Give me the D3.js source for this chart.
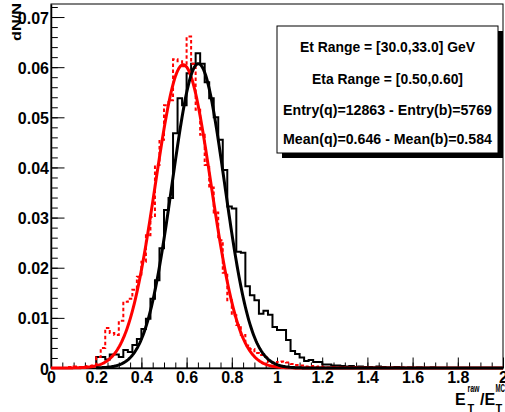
<!DOCTYPE html>
<html><head><meta charset="utf-8">
<script src="https://cdn.jsdelivr.net/npm/d3@7"></script>
<style>body{margin:0;background:#fff}svg{display:block}</style>
</head><body>
<svg id="c" width="505" height="412"></svg>
<script>
// ---------- data ----------
const xRange = [0, 2];
const yRange = [0, 0.0726];
const binWidth = 0.02;
const xMajorTicks = [0, 0.2, 0.4, 0.6, 0.8, 1, 1.2, 1.4, 1.6, 1.8, 2];
const xTickLabels = ["0", "0.2", "0.4", "0.6", "0.8", "1", "1.2", "1.4", "1.6", "1.8", "2"];
const yMajorTicks = [0, 0.01, 0.02, 0.03, 0.04, 0.05, 0.06, 0.07];
const yTickLabels = ["0", "0.01", "0.02", "0.03", "0.04", "0.05", "0.06", "0.07"];

// quark jets (black, solid histogram), 100 bins of 0.02 from 0 to 2
const quarkValues = [
  0, 0, 0, 0, 0, 0, 0, 0, 0, 0.0004,
  0.0022, 0.0022, 0.0017, 0.0027, 0.0027, 0.0022, 0.0036, 0.0032, 0.0046, 0.0058,
  0.0078, 0.0098, 0.0138, 0.0175, 0.0239, 0.0315, 0.0339, 0.0468, 0.0538, 0.0524,
  0.0588, 0.0607, 0.0628, 0.0607, 0.0570, 0.0538, 0.0500, 0.0455, 0.0395, 0.0322,
  0.0318, 0.0232, 0.0230, 0.0163, 0.0145, 0.0135, 0.0108, 0.0114, 0.0106, 0.0082,
  0.0076, 0.0076, 0.0056, 0.0034, 0.0028, 0.0021, 0.0014, 0.0016, 0.0012, 0.0012,
  0.0007, 0.0007, 0.0005, 0.0005, 0.0004, 0.0003, 0.0004, 0.0002, 0.0003, 0.0002,
  0.0002, 0.0001, 0.0003, 0.0002, 0.0001, 0.0001, 0.0002, 0.0001, 0, 0.0001,
  0, 0.0001, 0, 0, 0.0001, 0, 0, 0, 0, 0,
  0, 0, 0, 0, 0, 0, 0, 0, 0, 0
];
// b jets (red, dashed histogram)
const bValues = [
  0, 0, 0, 0, 0.0002, 0.0003, 0.0002, 0.0003, 0.0004, 0.0005,
  0.0022, 0.0040, 0.0080, 0.0070, 0.0066, 0.0094, 0.0132, 0.0138, 0.0156, 0.0182,
  0.0212, 0.0265, 0.0301, 0.0405, 0.0455, 0.0524, 0.0534, 0.0616, 0.0612, 0.0602,
  0.0661, 0.0607, 0.0515, 0.0465, 0.0405, 0.0360, 0.0310, 0.0255, 0.0190, 0.0135,
  0.0105, 0.0086, 0.0066, 0.0045, 0.0038, 0.0030, 0.0026, 0.0022, 0.0012, 0.0010,
  0.0012, 0.0013, 0.0011, 0.0008, 0.0006, 0.0005, 0.0003, 0.0004, 0.0002, 0.0003,
  0.0002, 0.0001, 0.0002, 0.0001, 0, 0.0001, 0, 0.0001, 0, 0,
  0, 0, 0, 0, 0, 0, 0, 0, 0, 0,
  0, 0, 0, 0, 0, 0, 0, 0, 0, 0,
  0, 0, 0, 0, 0, 0, 0, 0, 0, 0
];

// Gaussian fit parameters [quark, b]
const fitAmplitude = [0.0607, 0.0605];
const fitMean = [0.652, 0.585];
const fitSigma = [0.116, 0.123];
const fitRangeLow = [0.2, 0];
const fitColors = ["#000000", "#ff0000"];

const legendLines = [
  "Et Range = [30.0,33.0] GeV",
  "Eta Range = [0.50,0.60]",
  "Entry(q)=12863 - Entry(b)=5769",
  "Mean(q)=0.646 - Mean(b)=0.584"
];

// ---------- drawing ----------
const FONT = "'Liberation Sans Narrow','Liberation Sans',Arial,sans-serif";
const FONT_W = "'Liberation Sans',Arial,sans-serif";
const svg = d3.select("#c");
const L = 51, R = 503, T = 4, B = 368;
const x = d3.scaleLinear().domain(xRange).range([L, R]);
const y = d3.scaleLinear().domain(yRange).range([B, T]);

svg.append("rect").attr("width", 505).attr("height", 412).attr("fill", "#fff");

// frame
svg.append("rect").attr("x", L).attr("y", T).attr("width", R - L).attr("height", B - T)
  .attr("fill", "none").attr("stroke", "#000").attr("stroke-width", 1);

// axes
const xMinor = d3.range(0, 2.0001, 0.05);
const yMinor = d3.range(0, 0.0726, 0.002);
svg.append("g").attr("transform", `translate(0,${B})`)
  .call(d3.axisBottom(x).tickValues(xMinor).tickSize(-5.5).tickSizeOuter(0).tickFormat(""))
  .call(g => g.select(".domain").remove());
const gx = svg.append("g").attr("transform", `translate(0,${B})`)
  .call(d3.axisBottom(x).tickValues(xMajorTicks).tickSize(-10.5).tickSizeOuter(0)
    .tickPadding(4).tickFormat((d, i) => xTickLabels[i]));
gx.select(".domain").attr("stroke-width", 1.5);
gx.selectAll("text").attr("font-family", FONT).attr("font-weight", "bold")
  .attr("font-size", 16).attr("fill", "#000");

svg.append("g").attr("transform", `translate(${L},0)`)
  .call(d3.axisLeft(y).tickValues(yMinor).tickSize(-6.8).tickSizeOuter(0).tickFormat(""))
  .call(g => g.select(".domain").remove());
const gy = svg.append("g").attr("transform", `translate(${L},0)`)
  .call(d3.axisLeft(y).tickValues(yMajorTicks).tickSize(-13.5).tickSizeOuter(0)
    .tickPadding(2).tickFormat((d, i) => yTickLabels[i]));
gy.select(".domain").attr("stroke-width", 1.5);
gy.selectAll("text").attr("font-family", FONT).attr("font-weight", "bold")
  .attr("font-size", 16).attr("fill", "#000").attr("dy", "0.38em");
svg.selectAll(".tick line").attr("stroke", "#000");

// histograms
function histPoints(vals) {
  const pts = vals.map((v, i) => [i * binWidth, v]);
  pts.push([vals.length * binWidth, vals[vals.length - 1]]);
  return pts;
}
const stepLine = d3.line().x(d => x(d[0])).y(d => y(d[1])).curve(d3.curveStepAfter);

svg.append("path").attr("d", stepLine(histPoints(quarkValues)))
  .attr("fill", "none").attr("stroke", "#000").attr("stroke-width", 2);
svg.append("path").attr("d", stepLine(histPoints(bValues)))
  .attr("fill", "none").attr("stroke", "#ff0000").attr("stroke-width", 2)
  .attr("stroke-dasharray", "3.5,2.5");

// fit curves
const smooth = d3.line().x(d => x(d[0])).y(d => y(d[1])).curve(d3.curveLinear);
[1, 0].forEach(k => {
  const pts = d3.range(fitRangeLow[k], 2.0001, 0.004).map(v =>
    [v, fitAmplitude[k] * Math.exp(-0.5 * Math.pow((v - fitMean[k]) / fitSigma[k], 2))]);
  svg.append("path").attr("d", smooth(pts)).attr("fill", "none")
    .attr("stroke", fitColors[k]).attr("stroke-width", 3).attr("stroke-linejoin", "round");
});

// legend box
const bx = 277, by = 26, bw = 221, bh = 127;
svg.append("rect").attr("x", bx + 5).attr("y", by + 5).attr("width", bw).attr("height", bh).attr("fill", "#000");
svg.append("rect").attr("x", bx).attr("y", by).attr("width", bw).attr("height", bh)
  .attr("fill", "#fff").attr("stroke", "#000").attr("stroke-width", 1);
const lineY = [52, 84, 114.5, 143.5];
const lineW = [175, 151, 209, 209];
legendLines.forEach((t, i) => {
  svg.append("text").attr("x", bx + bw / 2).attr("y", lineY[i]).attr("text-anchor", "middle")
    .attr("font-family", FONT).attr("font-weight", "bold").attr("font-size", 14.5)
    .attr("textLength", lineW[i]).attr("lengthAdjust", "spacingAndGlyphs").text(t);
});

// y title
svg.append("text").attr("transform", "translate(20.5,3) rotate(-90)").attr("text-anchor", "end")
  .attr("font-family", FONT).attr("font-weight", "bold").attr("font-size", 13)
  .attr("textLength", 38).attr("lengthAdjust", "spacingAndGlyphs").text("dN/N");

// x title  E_T^raw / E_T^MC
const xt = svg.append("g").attr("font-family", FONT_W).attr("font-weight", "bold").attr("fill", "#000");
xt.append("text").attr("x", 455).attr("y", 405).attr("font-size", 16).text("E");
xt.append("text").attr("x", 467.5).attr("y", 392).attr("font-size", 11.5)
  .attr("textLength", 12).attr("lengthAdjust", "spacingAndGlyphs").text("raw");
xt.append("text").attr("x", 467.5).attr("y", 412).attr("font-size", 11).text("T");
xt.append("text").attr("x", 480).attr("y", 405).attr("font-size", 16).text("/");
xt.append("text").attr("x", 484.5).attr("y", 405).attr("font-size", 16).text("E");
xt.append("text").attr("x", 495.5).attr("y", 392).attr("font-size", 11)
  .attr("textLength", 9.5).attr("lengthAdjust", "spacingAndGlyphs").text("MC");
xt.append("text").attr("x", 495.5).attr("y", 412).attr("font-size", 11).text("T");
</script>
</body></html>
